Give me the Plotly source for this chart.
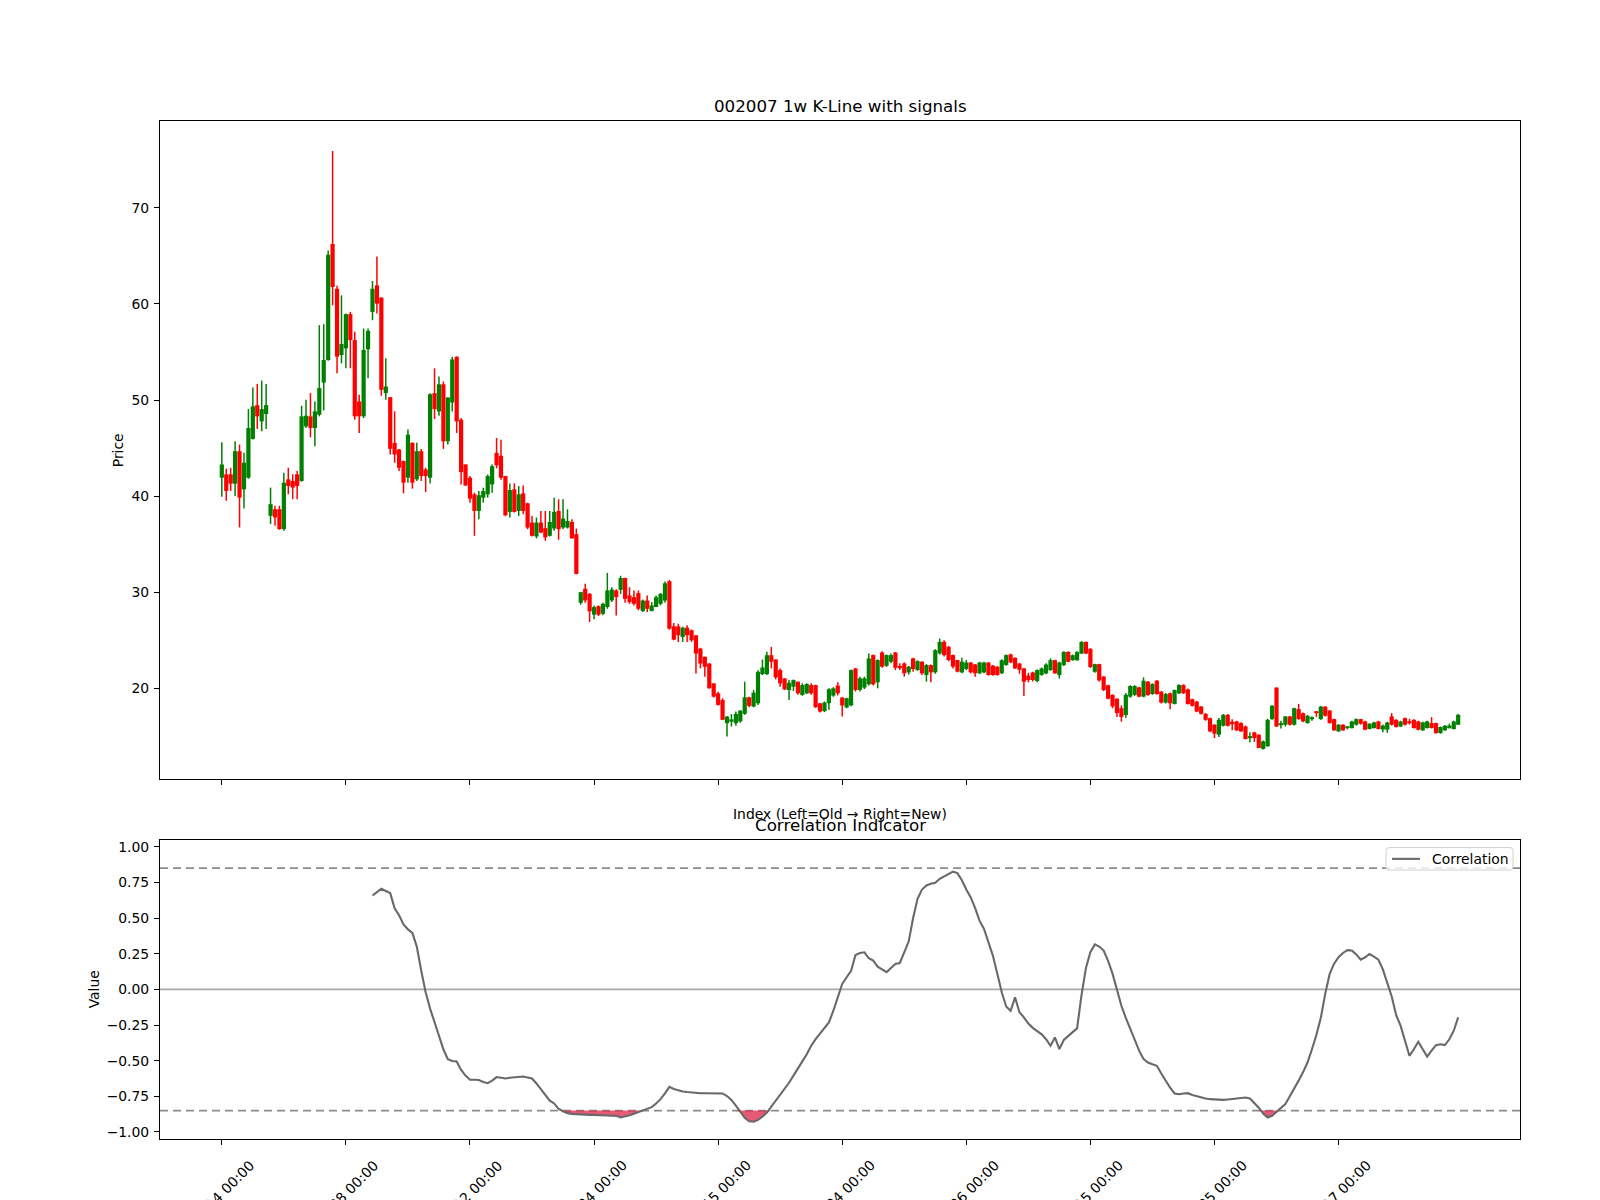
import plotly.graph_objects as go

# ---------------- data (weekly OHLC, index 0 = oldest) ----------------
opens = [
    41.91, 42.26, 42.26, 41.29, 44.67, 40.70, 41.91, 45.95, 49.47, 47.78,
    48.54, 37.94, 38.63, 38.63, 36.56, 41.74, 41.57, 42.26, 41.57, 47.26,
    48.30, 47.09, 48.47, 51.82, 54.17, 66.26, 61.59, 54.69, 55.38, 58.94,
    56.24, 49.85, 48.30, 55.28, 59.18, 61.94, 60.66, 50.72, 50.30, 45.54,
    44.85, 43.64, 41.91, 45.54, 41.74, 44.67, 42.77, 41.91, 50.71, 48.81,
    51.64, 45.70, 49.74, 54.51, 47.95, 43.29, 41.91, 40.18, 38.45, 39.83,
    40.18, 41.21, 44.49, 44.20, 42.08, 38.35, 40.70, 38.45, 40.28, 39.25,
    37.24, 35.79, 37.24, 36.66, 35.86, 36.62, 38.45, 36.72, 36.72, 37.31,
    36.03, 28.89, 30.34, 29.82, 27.65, 28.54, 27.75, 28.44, 29.13, 30.17,
    30.23, 31.47, 29.65, 29.47, 29.89, 28.02, 29.12, 28.02, 28.44, 28.78,
    29.12, 31.13, 26.43, 26.43, 25.33, 26.29, 26.02, 25.50, 24.12, 23.26,
    22.56, 20.49, 19.46, 18.77, 16.35, 16.50, 16.35, 16.53, 17.32, 19.04,
    18.08, 18.42, 21.46, 21.46, 23.43, 22.98, 21.87, 21.01, 19.80, 20.15,
    20.67, 19.29, 19.46, 20.32, 20.32, 18.42, 17.60, 18.43, 19.22, 20.26,
    19.02, 17.98, 18.20, 22.05, 19.81, 20.05, 20.40, 23.44, 20.60, 23.71,
    22.33, 22.75, 23.71, 22.30, 22.57, 21.64, 23.09, 21.88, 22.75, 21.36,
    22.40, 21.64, 23.61, 24.82, 24.30, 23.44, 22.92, 21.64, 21.99, 22.67,
    22.47, 21.54, 21.64, 22.67, 22.33, 22.23, 21.54, 22.40, 23.51, 23.16,
    22.57, 22.05, 21.30, 21.63, 20.74, 21.36, 21.53, 21.88, 22.91, 21.36,
    22.39, 23.77, 22.91, 22.91, 23.60, 24.81, 24.10, 21.70, 22.50, 21.20,
    20.30, 19.30, 18.90, 17.90, 17.20, 19.11, 19.29, 20.08, 19.11, 20.67,
    19.39, 20.77, 19.63, 18.49, 19.46, 18.35, 19.46, 20.32, 19.87, 18.84,
    18.60, 18.08, 17.32, 16.87, 16.19, 15.15, 16.08, 17.22, 16.50, 16.53,
    16.36, 16.01, 14.80, 15.39, 15.15, 13.67, 13.94, 16.77, 20.05, 16.20,
    16.19, 17.05, 16.19, 17.81, 17.39, 16.36, 16.80, 17.50, 16.77, 18.08,
    17.67, 16.77, 15.49, 16.19, 15.90, 15.84, 16.19, 16.77, 16.53, 15.74,
    15.84, 16.53, 15.70, 15.67, 17.05, 16.70, 16.01, 16.87, 16.50, 16.70,
    16.53, 15.60, 15.84, 16.36, 16.36, 15.32, 15.60, 15.90, 15.74, 16.19,
]
highs = [
    45.61, 42.85, 42.95, 45.71, 45.36, 44.50, 49.06, 51.30, 51.68, 52.03,
    51.68, 40.88, 38.98, 38.98, 42.43, 42.95, 42.26, 42.60, 49.40, 50.03,
    50.72, 49.85, 57.80, 57.90, 65.56, 75.92, 61.90, 60.90, 59.00, 59.18,
    57.10, 50.54, 57.45, 57.45, 62.39, 64.94, 60.70, 54.34, 50.30, 48.82,
    44.90, 43.70, 46.92, 45.60, 45.54, 44.90, 42.94, 50.70, 53.30, 52.44,
    51.92, 50.30, 54.51, 54.55, 48.12, 43.30, 42.08, 40.35, 40.52, 40.87,
    42.25, 43.29, 46.05, 45.87, 42.10, 41.32, 41.32, 41.04, 41.11, 39.30,
    37.93, 37.76, 38.45, 38.45, 38.45, 39.83, 39.66, 39.66, 38.62, 37.59,
    36.62, 30.00, 30.86, 29.90, 28.61, 28.60, 28.90, 32.00, 30.51, 30.30,
    31.70, 31.50, 30.51, 30.17, 30.17, 29.23, 29.65, 28.96, 29.65, 29.90,
    31.10, 31.27, 26.78, 26.71, 26.40, 26.54, 26.10, 25.50, 24.20, 23.30,
    22.60, 20.50, 19.63, 18.94, 17.10, 17.30, 17.56, 17.70, 20.67, 19.10,
    19.80, 21.87, 22.98, 23.78, 24.29, 23.00, 22.05, 21.05, 20.84, 20.90,
    20.70, 20.50, 20.50, 20.50, 20.35, 18.45, 18.60, 19.98, 20.10, 20.60,
    19.05, 19.00, 21.95, 22.10, 21.19, 21.20, 23.61, 23.50, 23.00, 23.85,
    23.50, 23.61, 23.75, 22.60, 22.67, 22.30, 23.16, 22.90, 22.80, 22.50,
    22.45, 24.06, 25.16, 24.99, 24.40, 23.50, 22.95, 23.16, 22.92, 22.70,
    22.50, 22.74, 22.74, 22.70, 22.40, 22.30, 23.00, 23.50, 23.60, 23.20,
    22.60, 22.10, 21.60, 21.70, 21.95, 22.15, 22.60, 23.10, 22.95, 22.75,
    23.85, 23.85, 23.50, 23.85, 24.90, 24.85, 24.15, 22.55, 22.55, 21.25,
    20.35, 19.35, 18.95, 18.20, 19.50, 20.30, 20.30, 20.15, 21.12, 20.75,
    20.50, 20.85, 19.70, 19.50, 19.55, 19.85, 20.40, 20.40, 19.95, 18.90,
    18.65, 18.10, 17.40, 16.95, 16.25, 16.90, 17.30, 17.30, 16.77, 16.60,
    16.45, 16.10, 15.40, 15.45, 15.20, 14.55, 16.80, 18.25, 20.10, 16.60,
    17.10, 17.10, 17.95, 18.36, 17.45, 17.20, 17.05, 17.60, 18.15, 18.12,
    17.70, 16.80, 16.25, 16.25, 16.00, 16.60, 16.85, 16.80, 16.60, 16.35,
    16.50, 16.60, 16.20, 16.50, 17.39, 16.75, 16.60, 16.95, 16.80, 16.75,
    16.60, 16.50, 16.60, 16.98, 16.40, 16.00, 16.15, 16.30, 16.60, 17.30,
]
lows = [
    39.94, 39.50, 40.53, 40.01, 36.73, 38.70, 41.80, 45.90, 46.99, 46.75,
    46.99, 37.08, 36.91, 36.49, 36.39, 40.19, 39.67, 39.67, 41.50, 47.09,
    46.12, 45.19, 48.30, 48.92, 54.10, 59.87, 52.79, 53.82, 53.31, 53.31,
    47.95, 46.57, 48.13, 52.27, 58.31, 59.00, 50.44, 50.03, 44.33, 43.47,
    42.60, 40.29, 41.39, 40.77, 41.57, 41.56, 40.42, 41.32, 48.02, 48.36,
    44.91, 45.36, 48.81, 46.57, 41.21, 41.04, 39.30, 35.86, 37.59, 39.31,
    39.83, 40.35, 42.90, 41.70, 37.90, 37.76, 38.28, 37.93, 38.11, 36.55,
    35.79, 35.59, 36.14, 35.34, 35.79, 36.38, 35.45, 36.55, 36.62, 35.59,
    31.85, 28.68, 28.89, 26.88, 27.16, 27.51, 27.58, 28.27, 28.96, 27.57,
    29.80, 28.90, 28.78, 28.61, 28.10, 27.92, 27.92, 28.00, 28.44, 28.61,
    28.89, 26.09, 24.98, 24.81, 24.81, 24.81, 24.81, 21.53, 22.05, 21.18,
    19.97, 19.01, 18.18, 16.70, 14.97, 16.00, 16.07, 16.40, 17.22, 18.00,
    18.00, 18.25, 21.36, 21.36, 22.05, 20.91, 20.15, 19.80, 18.77, 19.70,
    19.30, 19.20, 19.40, 19.30, 17.95, 17.45, 17.50, 17.74, 19.10, 19.22,
    17.05, 17.90, 18.10, 19.64, 19.64, 19.90, 20.26, 20.26, 19.98, 22.12,
    22.20, 22.60, 21.88, 21.90, 21.20, 21.40, 21.70, 21.80, 21.36, 20.67,
    20.60, 21.50, 23.50, 23.30, 22.80, 22.05, 21.64, 21.54, 21.88, 21.54,
    21.19, 21.47, 21.54, 21.30, 21.30, 21.30, 21.47, 22.33, 22.60, 22.00,
    21.50, 19.18, 20.60, 20.70, 20.60, 21.30, 21.45, 21.80, 21.50, 21.00,
    22.30, 22.70, 22.85, 22.85, 23.55, 23.55, 22.10, 21.60, 20.70, 19.70,
    18.85, 17.90, 17.00, 16.50, 16.90, 19.00, 19.20, 19.05, 19.05, 19.20,
    19.30, 19.30, 18.40, 18.40, 17.80, 18.30, 19.40, 19.40, 18.30, 18.10,
    17.50, 17.25, 16.60, 15.40, 14.80, 14.90, 16.00, 16.00, 15.60, 15.55,
    15.45, 14.65, 14.35, 14.40, 13.75, 13.62, 13.90, 16.70, 15.95, 15.80,
    16.00, 16.10, 16.10, 16.70, 16.45, 16.30, 16.60, 17.00, 16.70, 17.05,
    16.30, 15.55, 15.45, 15.55, 15.70, 15.80, 16.10, 16.20, 15.60, 15.70,
    15.80, 15.70, 15.40, 15.35, 16.10, 15.90, 15.95, 16.10, 16.20, 15.80,
    15.60, 15.55, 15.80, 15.80, 15.25, 15.25, 15.55, 15.80, 15.70, 16.15,
]
closes = [
    43.29, 40.53, 41.29, 44.67, 39.84, 43.47, 47.09, 49.34, 48.30, 49.06,
    49.47, 39.15, 37.77, 36.56, 41.39, 41.05, 40.88, 41.05, 48.30, 48.37,
    47.09, 48.82, 51.24, 54.17, 65.12, 61.77, 54.52, 55.83, 58.94, 56.24,
    48.30, 48.30, 55.21, 57.21, 61.59, 60.04, 51.06, 51.41, 44.92, 44.33,
    42.95, 41.39, 46.40, 41.39, 44.67, 42.08, 42.08, 50.61, 49.05, 51.64,
    45.70, 50.26, 54.23, 47.77, 42.49, 41.11, 39.73, 38.45, 40.09, 40.52,
    42.08, 43.11, 43.20, 41.91, 38.00, 40.63, 38.35, 40.18, 38.45, 36.72,
    35.86, 37.24, 36.20, 35.69, 37.31, 38.35, 36.55, 37.66, 37.41, 35.59,
    31.89, 29.99, 29.13, 27.99, 28.44, 27.65, 28.78, 30.17, 30.27, 29.48,
    31.47, 29.30, 28.95, 28.78, 28.26, 29.12, 28.26, 28.61, 29.47, 29.82,
    30.92, 26.19, 25.05, 25.50, 26.29, 25.50, 24.98, 23.60, 22.56, 22.22,
    19.97, 19.11, 18.25, 16.70, 17.04, 16.75, 17.32, 17.66, 19.04, 18.15,
    19.53, 21.70, 22.15, 23.43, 22.74, 21.11, 20.49, 19.87, 20.56, 20.84,
    19.46, 20.32, 20.43, 19.46, 18.01, 17.56, 18.50, 19.88, 19.98, 19.46,
    18.19, 18.95, 21.88, 19.81, 21.02, 21.02, 23.09, 20.40, 22.92, 22.23,
    23.44, 23.44, 22.12, 22.10, 21.54, 22.23, 21.99, 22.81, 21.54, 22.40,
    21.64, 23.95, 24.82, 23.44, 22.92, 22.23, 21.71, 22.75, 22.67, 21.64,
    21.54, 22.67, 22.67, 21.36, 21.36, 21.36, 22.90, 23.44, 22.67, 22.05,
    21.90, 20.67, 20.84, 20.84, 21.88, 22.05, 22.46, 22.91, 21.53, 22.67,
    23.77, 22.74, 23.43, 23.77, 24.81, 23.60, 22.20, 22.50, 20.80, 19.80,
    18.90, 18.10, 17.40, 17.00, 19.30, 20.22, 20.22, 19.11, 20.77, 19.29,
    20.43, 19.39, 18.49, 19.39, 18.42, 19.80, 20.32, 19.46, 18.35, 18.15,
    17.56, 17.32, 16.70, 15.49, 15.25, 16.70, 17.22, 16.08, 16.30, 15.60,
    15.49, 14.70, 15.00, 14.80, 13.77, 14.46, 16.70, 18.15, 16.01, 16.35,
    17.05, 16.19, 17.91, 16.77, 16.53, 17.12, 16.90, 17.40, 18.08, 17.12,
    16.36, 15.60, 16.19, 15.60, 15.95, 16.53, 16.77, 16.29, 15.67, 16.29,
    16.43, 15.74, 16.10, 16.43, 16.19, 15.95, 16.53, 16.19, 16.40, 15.84,
    15.67, 16.43, 16.53, 15.84, 15.32, 15.95, 16.08, 16.10, 16.53, 17.22,
]

# correlation indicator, first valid value at bar index 34
corr_start = 34
corr_values = [
    0.658, 0.685, 0.705, 0.690, 0.675, 0.569, 0.520, 0.455, 0.420, 0.396,
    0.300, 0.130, -0.020, -0.135, -0.230, -0.320, -0.420, -0.490, -0.503, -0.506,
    -0.565, -0.605, -0.634, -0.634, -0.636, -0.650, -0.658, -0.640, -0.615, -0.620,
    -0.625, -0.620, -0.616, -0.613, -0.611, -0.618, -0.625, -0.660, -0.700, -0.740,
    -0.780, -0.800, -0.838, -0.855, -0.868, -0.873, -0.876, -0.879, -0.880, -0.880,
    -0.880, -0.880, -0.882, -0.884, -0.886, -0.887, -0.898, -0.892, -0.883, -0.872,
    -0.860, -0.852, -0.840, -0.826, -0.800, -0.770, -0.730, -0.684, -0.698, -0.708,
    -0.716, -0.720, -0.724, -0.727, -0.728, -0.728, -0.728, -0.727, -0.728, -0.730,
    -0.748, -0.775, -0.815, -0.862, -0.900, -0.925, -0.928, -0.915, -0.893, -0.864,
    -0.823, -0.785, -0.745, -0.700, -0.655, -0.605, -0.550, -0.505, -0.455, -0.395,
    -0.349, -0.310, -0.270, -0.232, -0.150, -0.050, 0.038, 0.085, 0.130, 0.241,
    0.255, 0.260, 0.218, 0.201, 0.159, 0.140, 0.120, 0.150, 0.178, 0.185,
    0.260, 0.335, 0.500, 0.635, 0.700, 0.728, 0.740, 0.747, 0.775, 0.790,
    0.810, 0.825, 0.815, 0.765, 0.700, 0.645, 0.570, 0.480, 0.424, 0.330,
    0.237, 0.110, -0.020, -0.120, -0.150, -0.056, -0.161, -0.197, -0.240, -0.270,
    -0.295, -0.315, -0.350, -0.396, -0.337, -0.419, -0.355, -0.325, -0.300, -0.274,
    -0.040, 0.150, 0.260, 0.315, 0.300, 0.272, 0.200, 0.110, 0.000, -0.115,
    -0.200, -0.280, -0.350, -0.430, -0.489, -0.513, -0.525, -0.536, -0.590, -0.640,
    -0.690, -0.730, -0.735, -0.730, -0.728, -0.740, -0.750, -0.758, -0.765, -0.770,
    -0.773, -0.775, -0.775, -0.772, -0.768, -0.765, -0.760, -0.758, -0.765, -0.794,
    -0.830, -0.870, -0.899, -0.887, -0.860, -0.830, -0.805, -0.750, -0.700, -0.640,
    -0.580, -0.513, -0.420, -0.320, -0.200, -0.030, 0.108, 0.180, 0.225, 0.255,
    0.275, 0.272, 0.245, 0.208, 0.225, 0.248, 0.230, 0.208, 0.140, 0.038,
    -0.050, -0.180, -0.255, -0.360, -0.466, -0.420, -0.368, -0.420, -0.471, -0.430,
    -0.391, -0.385, -0.391, -0.350, -0.290, -0.197,
]

upper_threshold = 0.85
lower_threshold = -0.85

tick_positions = [0, 28, 56, 84, 112, 140, 168, 196, 224, 252]
tick_labels = [
    "2020-02-14 00:00", "2020-08-28 00:00", "2021-03-12 00:00", "2021-09-24 00:00",
    "2022-04-15 00:00", "2022-11-04 00:00", "2023-05-26 00:00", "2023-12-15 00:00",
    "2024-07-05 00:00", "2025-01-17 00:00",
]
price_ticks = [20, 30, 40, 50, 60, 70]
value_ticks = [-1.0, -0.75, -0.5, -0.25, 0.0, 0.25, 0.5, 0.75, 1.0]
legend_label = "Correlation"

# ---------------- styling ----------------
W, H = 1600, 1200
FONT = "DejaVu Sans"
GREEN = "#008000"
RED = "#ff0000"
LINE_GRAY = "#696969"
FILL = "rgba(220,20,60,0.7)"
TICK_PX = 13.9
TITLE_PX = 16.7


def py(px):
    return 1 - px / H


def px_x(px):
    return px / W


n = len(opens)
idx = list(range(n))
up = [i for i in idx if closes[i] >= opens[i]]
down = [i for i in idx if closes[i] < opens[i]]

fig = go.Figure()


def wick_trace(ids, color):
    xs, ys = [], []
    for i in ids:
        xs += [i, i, None]
        ys += [lows[i], highs[i], None]
    return go.Scatter(x=xs, y=ys, mode="lines", line=dict(color=color, width=1.5),
                      showlegend=False, hoverinfo="skip", xaxis="x", yaxis="y")


fig.add_trace(wick_trace(up, GREEN))
fig.add_trace(wick_trace(down, RED))
fig.add_trace(go.Bar(x=up, base=[opens[i] for i in up], y=[closes[i] - opens[i] for i in up],
                     width=0.95, marker=dict(color=GREEN, line=dict(width=0)),
                     showlegend=False, xaxis="x", yaxis="y"))
fig.add_trace(go.Bar(x=down, base=[closes[i] for i in down], y=[opens[i] - closes[i] for i in down],
                     width=0.95, marker=dict(color=RED, line=dict(width=0)),
                     showlegend=False, xaxis="x", yaxis="y"))

# shaded regions where the correlation dips below the lower threshold
corr_x = list(range(corr_start, corr_start + len(corr_values)))
m = len(corr_values)
below = [v < lower_threshold for v in corr_values]
fill_x, fill_y = [], []
k = 0
while k < m:
    if below[k]:
        a = k
        while k < m and below[k]:
            k += 1
        b = k - 1
        lo_i, hi_i = max(a - 1, 0), min(b + 1, m - 1)
        xs = [corr_x[j] for j in range(lo_i, hi_i + 1)]
        ys = [min(corr_values[j], lower_threshold) for j in range(lo_i, hi_i + 1)]
        fill_x += xs + xs[::-1] + [None]
        fill_y += ys + [lower_threshold] * len(xs) + [None]
    else:
        k += 1

fig.add_trace(go.Scatter(x=fill_x, y=fill_y, mode="lines", fill="toself", fillcolor=FILL,
                         line=dict(width=0, color="rgba(0,0,0,0)"), showlegend=False,
                         hoverinfo="skip", xaxis="x2", yaxis="y2"))
fig.add_trace(go.Scatter(x=corr_x, y=corr_values, mode="lines", name=legend_label,
                         line=dict(color=LINE_GRAY, width=2.1), showlegend=False,
                         xaxis="x2", yaxis="y2"))

xlo = -0.05 * (n - 1)
xhi = (n - 1) * 1.05
plo, phi = min(lows), max(highs)
pad = 0.05 * (phi - plo)

axis_common = dict(showgrid=False, zeroline=False, showline=True, mirror=True,
                   linecolor="black", linewidth=1, ticks="outside", ticklen=5,
                   tickwidth=1, tickcolor="black",
                   tickfont=dict(family=FONT, size=TICK_PX, color="black"))

# legend box drawn like matplotlib's (rounded frame, short line handle, label)
lx0, lx1, ly0, ly1, r = 1386, 1513, 848, 870.5, 3
legend_path = (f"M {lx0 + r},{ly0} L {lx1 - r},{ly0} Q {lx1},{ly0} {lx1},{ly0 + r} "
               f"L {lx1},{ly1 - r} Q {lx1},{ly1} {lx1 - r},{ly1} L {lx0 + r},{ly1} "
               f"Q {lx0},{ly1} {lx0},{ly1 - r} L {lx0},{ly0 + r} Q {lx0},{ly0} {lx0 + r},{ly0} Z")


def path_to_paper(p):
    out = []
    for tok in p.split(" "):
        if "," in tok:
            a, b = tok.split(",")
            out.append(f"{float(a) / W:.5f},{1 - float(b) / H:.5f}")
        else:
            out.append(tok)
    return " ".join(out)


fig.update_layout(
    width=W, height=H, margin=dict(l=0, r=0, t=0, b=0),
    paper_bgcolor="white", plot_bgcolor="white", barmode="overlay",
    font=dict(family=FONT, size=TICK_PX, color="black"),
    xaxis=dict(domain=[px_x(160), px_x(1520)], range=[xlo, xhi], anchor="y",
               tickvals=tick_positions, showticklabels=False, **axis_common),
    yaxis=dict(domain=[py(779.6), py(120.4)], range=[plo - pad, phi + pad], anchor="x",
               tickvals=price_ticks, ticklabelstandoff=2, **axis_common),
    xaxis2=dict(domain=[px_x(160), px_x(1520)], range=[xlo, xhi], anchor="y2",
                tickvals=tick_positions, showticklabels=False, **axis_common),
    yaxis2=dict(domain=[py(1140), py(840)], range=[-1.05, 1.05], anchor="x2",
                tickvals=value_ticks, tickformat=".2f", ticklabelstandoff=2, **axis_common),
    showlegend=False,
    shapes=[
        dict(type="line", xref="x2 domain", yref="y2", x0=0, x1=1, y0=upper_threshold, y1=upper_threshold,
             line=dict(color="#8c8c8c", width=1.8, dash="8px,5px"), layer="below"),
        dict(type="line", xref="x2 domain", yref="y2", x0=0, x1=1, y0=lower_threshold, y1=lower_threshold,
             line=dict(color="#8c8c8c", width=1.8, dash="8px,5px"), layer="below"),
        dict(type="line", xref="x2 domain", yref="y2", x0=0, x1=1, y0=0, y1=0,
             line=dict(color="#a9a9a9", width=1.6), layer="below"),
        dict(type="path", xref="paper", yref="paper", path=path_to_paper(legend_path),
             fillcolor="rgba(255,255,255,0.8)", line=dict(color="#d0d0d0", width=1), layer="above"),
        dict(type="line", xref="paper", yref="paper", x0=px_x(1392), x1=px_x(1420),
             y0=py(859.3), y1=py(859.3), line=dict(color=LINE_GRAY, width=2.1), layer="above"),
    ],
)

annotations = [
    dict(text="002007 1w K-Line with signals", x=px_x(840), y=py(105), xref="paper", yref="paper",
         showarrow=False, xanchor="center", yanchor="middle", font=dict(family=FONT, size=TITLE_PX)),
    dict(text="Index (Left=Old → Right=New)", x=px_x(840), y=py(814), xref="paper", yref="paper",
         showarrow=False, xanchor="center", yanchor="middle", font=dict(family=FONT, size=TICK_PX)),
    dict(text="Correlation Indicator", x=px_x(840), y=py(825), xref="paper", yref="paper",
         showarrow=False, xanchor="center", yanchor="middle", font=dict(family=FONT, size=TITLE_PX)),
    dict(text="Price", x=px_x(118), y=py(450), xref="paper", yref="paper", textangle=-90,
         showarrow=False, xanchor="center", yanchor="middle", font=dict(family=FONT, size=TICK_PX)),
    dict(text="Value", x=px_x(94), y=py(990), xref="paper", yref="paper", textangle=-90,
         showarrow=False, xanchor="center", yanchor="middle", font=dict(family=FONT, size=TICK_PX)),
    dict(text=legend_label, x=px_x(1430), y=py(859.3), xref="paper", yref="paper",
         showarrow=False, xanchor="left", yanchor="middle", font=dict(family=FONT, size=TICK_PX)),
]
for pos, lab in zip(tick_positions, tick_labels):
    annotations.append(dict(text=lab, x=pos, xref="x2", y=py(1150), yref="paper", textangle=-45,
                            showarrow=False, xanchor="center", yanchor="top", borderpad=0,
                            xshift=-14, yshift=-7,
                            font=dict(family=FONT, size=TICK_PX, color="black")))
fig.update_layout(annotations=annotations)

fig.write_html("out.html", config={"displayModeBar": False},
               post_script="document.body.style.margin='0';")
